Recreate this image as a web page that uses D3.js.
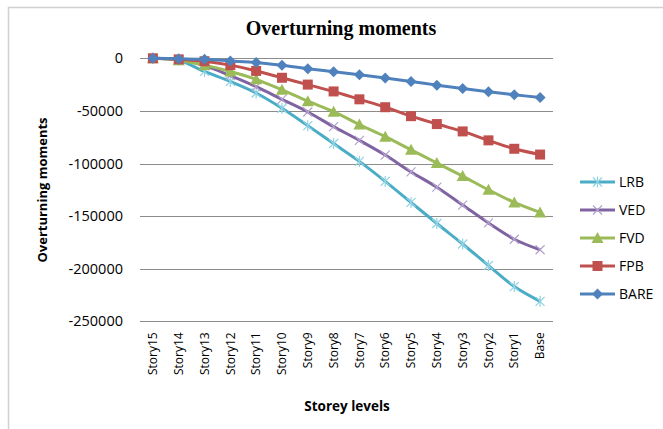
<!DOCTYPE html>
<html>
<head>
<meta charset="utf-8">
<script src="https://cdn.jsdelivr.net/npm/d3@7"></script>
<style>
    body { margin: 0; background: #fff; }
    text { font-family: "Open Sans", sans-serif; fill: #000; }
    .title { font-family: "Liberation Serif", serif; font-weight: bold; }
</style>
</head>
<body>
<svg id="chart" width="663" height="429"></svg>
<script>
// storey levels, top to bottom
var levels = ["Story15", "Story14", "Story13", "Story12", "Story11", "Story10", "Story9", "Story8",
              "Story7", "Story6", "Story5", "Story4", "Story3", "Story2", "Story1", "Base"];

// overturning moments for each system
var lrb  = [0, -2000, -12500, -22000, -33000, -47500, -64000, -81000, -98000, -117000, -137000, -157000, -176500, -197000, -217000, -231000];
var ved  = [0, -1500, -7000, -16500, -27000, -39000, -51000, -65000, -78000, -92000, -108000, -122500, -139500, -156500, -172000, -182000];
var fvd  = [0, -1800, -6500, -12500, -20000, -30000, -40800, -50700, -63000, -74500, -87000, -99500, -112000, -125000, -137000, -146500];
var fpb  = [0, -1000, -2800, -6500, -12000, -18500, -25000, -31500, -39000, -46500, -55000, -62500, -69500, -78000, -86000, -91500];
var bare = [0, -500, -1000, -2500, -4000, -6700, -9900, -12700, -15600, -18700, -22000, -25500, -28800, -31700, -34600, -37300];

var yTicks = [0, -50000, -100000, -150000, -200000, -250000];

var seriesNames = ["LRB", "VED", "FVD", "FPB", "BARE"];
var seriesValues = [lrb, ved, fvd, fpb, bare];

var colors = {LRB: "#4BACC6", VED: "#8064A2", FVD: "#9BBB59", FPB: "#C0504D", BARE: "#4F81BD"};
var markerColors = {LRB: "#8fd3e3", VED: "#b3a2cc", FVD: "#9BBB59", FPB: "#C0504D", BARE: "#4F81BD"};

var svg = d3.select("#chart");

// chart area border
svg.append("path")
    .attr("d", "M8.5,429 V7.5 H663")
    .attr("fill", "none")
    .attr("stroke", "#d0d0d0")
    .attr("stroke-width", 1.5);

var plot = {left: 140, right: 553, top: 58.3, bottom: 321.3};

var x = d3.scaleBand()
    .domain(levels)
    .range([plot.left, plot.right]);

var y = d3.scaleLinear()
    .domain([0, -250000])
    .range([plot.top, plot.bottom]);

// gridlines
svg.append("g")
    .selectAll("line")
    .data(yTicks)
    .enter()
    .append("line")
    .attr("x1", plot.left)
    .attr("x2", plot.right)
    .attr("y1", function(d){ return Math.round(y(d)) + 0.5; })
    .attr("y2", function(d){ return Math.round(y(d)) + 0.5; })
    .attr("stroke", "#8c8c8c")
    .attr("stroke-width", 1);

// y axis labels
var yAxis = d3.axisLeft(y).tickValues(yTicks).tickSize(0).tickPadding(0)
    .tickFormat(function(d){ return d3.format("d")(d).replace("\u2212", "-"); });
svg.append("g")
    .attr("transform", "translate(123,0)")
    .call(yAxis)
    .call(function(g){ g.select(".domain").remove(); })
    .selectAll("text")
    .style("font-family", "'Open Sans', sans-serif")
    .style("font-size", "14.5px")
    .attr("fill", "#000");

// x axis labels (rotated)
var xAxis = d3.axisBottom(x).tickSize(0).tickPadding(0);
svg.append("g")
    .attr("transform", "translate(0," + (plot.bottom + 11) + ")")
    .call(xAxis)
    .call(function(g){ g.select(".domain").remove(); })
    .selectAll("text")
    .attr("transform", "rotate(-90)")
    .attr("text-anchor", "end")
    .attr("dy", "0.35em")
    .attr("x", 0)
    .attr("y", 0)
    .style("font-family", "'Open Sans', sans-serif")
    .style("font-size", "12px")
    .attr("fill", "#000");

// lines
var line = d3.line()
    .x(function(d, i){ return x(levels[i]) + x.bandwidth() / 2; })
    .y(function(d){ return y(d); })
    .curve(d3.curveCardinal.tension(0));

seriesNames.forEach(function(name, k){
    svg.append("path")
        .datum(seriesValues[k])
        .attr("d", line)
        .attr("fill", "none")
        .attr("stroke", colors[name])
        .attr("stroke-width", 3)
        .attr("stroke-linejoin", "round");

    drawMarkers(name, seriesValues[k]);
});

function markerPath(name){
    if (name == "LRB") return "M-4.5,-4.5L4.5,4.5M-4.5,4.5L4.5,-4.5M0,-5.5L0,5.5";
    if (name == "VED") return "M-4.5,-4.5L4.5,4.5M-4.5,4.5L4.5,-4.5";
    if (name == "FVD") return "M0,-6L6,5L-6,5Z";
    if (name == "FPB") return "M-5,-5H5V5H-5Z";
    return "M0,-5.5L5.5,0L0,5.5L-5.5,0Z";
}

function drawMarkers(name, values){
    var open = (name == "LRB" || name == "VED");
    svg.append("g")
        .selectAll("path")
        .data(values)
        .enter()
        .append("path")
        .attr("transform", function(d, i){
            return "translate(" + (x(levels[i]) + x.bandwidth() / 2) + "," + y(d) + ")";
        })
        .attr("d", markerPath(name))
        .attr("fill", open ? "none" : markerColors[name])
        .attr("stroke", markerColors[name])
        .attr("stroke-width", open ? 1.2 : 0);
}

// legend
var legend = svg.append("g");
seriesNames.forEach(function(name, k){
    var ly = 182 + k * 28;
    legend.append("line")
        .attr("x1", 580).attr("x2", 615)
        .attr("y1", ly).attr("y2", ly)
        .attr("stroke", colors[name])
        .attr("stroke-width", 3);
    var open = (name == "LRB" || name == "VED");
    legend.append("path")
        .attr("transform", "translate(597.5," + ly + ")")
        .attr("d", markerPath(name))
        .attr("fill", open ? "none" : markerColors[name])
        .attr("stroke", markerColors[name])
        .attr("stroke-width", open ? 1.2 : 0);
    legend.append("text")
        .attr("x", 619)
        .attr("y", ly)
        .attr("dy", "0.35em")
        .style("font-size", "14px")
        .text(name);
});

// titles
svg.append("text")
    .attr("class", "title")
    .attr("x", 341)
    .attr("y", 35)
    .attr("text-anchor", "middle")
    .style("font-size", "20px")
    .text("Overturning moments");

svg.append("text")
    .attr("x", 347)
    .attr("y", 411)
    .attr("text-anchor", "middle")
    .style("font-size", "13.5px")
    .style("font-weight", "bold")
    .text("Storey levels");

svg.append("text")
    .attr("transform", "translate(46.5,190) rotate(-90)")
    .attr("text-anchor", "middle")
    .style("font-size", "13px")
    .style("font-weight", "bold")
    .text("Overturning moments");
</script>
</body>
</html>
